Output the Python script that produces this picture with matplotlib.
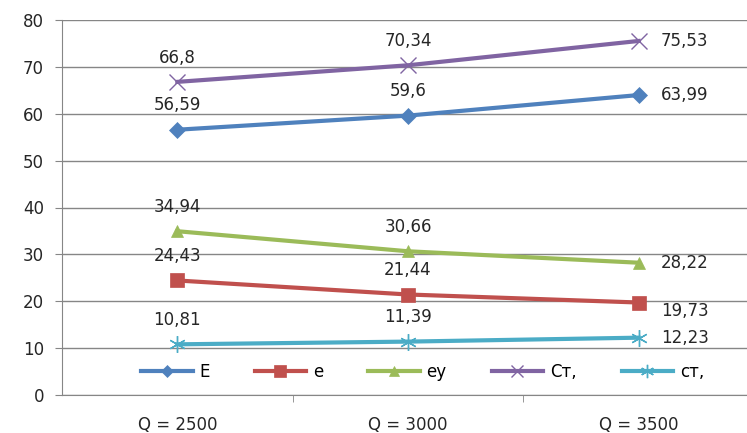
import matplotlib

matplotlib.use("Agg")

import matplotlib.pyplot as plt
import numpy as np

categories = ["Q = 2500", "Q = 3000", "Q = 3500"]
series_names = ["E", "e", "еу", "Ст,", "ст,"]
E_vals = [56.59, 59.6, 63.99]
e_vals = [24.43, 21.44, 19.73]
ey_vals = [34.94, 30.66, 28.22]
Ct_vals = [66.8, 70.34, 75.53]
ct_vals = [10.81, 11.39, 12.23]

colors = ["#4F81BD", "#C0504D", "#9BBB59", "#8064A2", "#4BACC6"]
markers = ["D", "s", "^", "x", (6, 2, 0)]
marker_sizes = [8, 10, 9, 11, 12]
# label placement per point: "above", "right", "below_right"
placements = [
    ["above", "above", "right"],
    ["above", "above", "below_right"],
    ["above", "above", "right"],
    ["above", "above", "right"],
    ["above", "above", "right"],
]

FS = 12
TXT = "#262626"

fig = plt.figure(figsize=(7.47, 4.33), dpi=100)
ax = fig.add_axes([62 / 747, 38 / 433, 692 / 747, 375 / 433])

x = np.arange(len(categories))
all_vals = [E_vals, e_vals, ey_vals, Ct_vals, ct_vals]

for name, vals, col, mk, ms, place in zip(series_names, all_vals, colors, markers, marker_sizes, placements):
    mew = 1.0 if mk in ("x", (6, 2, 0)) else 0.5
    ax.plot(x, vals, color=col, linewidth=3, marker=mk, markersize=ms,
            markeredgewidth=mew, markeredgecolor=col, label=name, zorder=3)
    for xi, v, p in zip(x, vals, place):
        txt = f"{v:g}".replace(".", ",")
        if p == "above":
            ax.annotate(txt, (xi, v), xytext=(0, 11), textcoords="offset points",
                        ha="center", va="bottom", fontsize=FS, color=TXT)
        elif p == "right":
            ax.annotate(txt, (xi, v), xytext=(16, 0), textcoords="offset points",
                        ha="left", va="center", fontsize=FS, color=TXT)
        else:
            ax.annotate(txt, (xi, v), xytext=(16, -6), textcoords="offset points",
                        ha="left", va="center", fontsize=FS, color=TXT)

ax.set_xlim(-0.5, 2.5)
ax.set_ylim(0, 80)
ax.set_yticks(np.arange(0, 81, 10))
ax.set_xticks(x)
ax.set_xticklabels(categories)
ax.set_xticks([0.5, 1.5], minor=True)
ax.tick_params(axis="x", which="major", length=0, pad=15, labelsize=FS, labelcolor=TXT)
ax.tick_params(axis="x", which="minor", length=5, color="#868686", direction="out")
ax.tick_params(axis="y", length=5, color="#868686", pad=8, labelsize=FS, labelcolor=TXT)
ax.grid(axis="y", color="#868686", linewidth=1)
ax.set_axisbelow(True)
for side in ("top", "right"):
    ax.spines[side].set_visible(False)
for side in ("left", "bottom"):
    ax.spines[side].set_color("#868686")

ax.legend(loc="center", bbox_to_anchor=(0.521, 0.0625), ncol=5, frameon=False,
          fontsize=FS, handlelength=3.1, columnspacing=2.7, handletextpad=0.4,
          markerscale=0.8)

fig.savefig("out.png", dpi=100)
